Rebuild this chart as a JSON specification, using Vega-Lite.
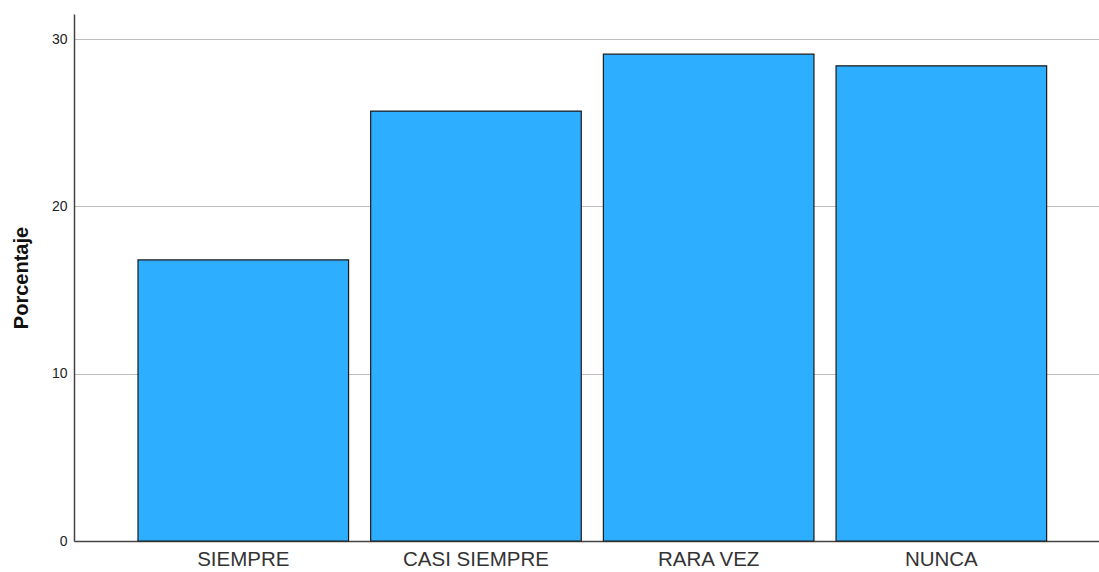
{
  "$schema": "https://vega.github.io/schema/vega-lite/v6.json",
  "width": 1025,
  "height": 527,
  "autosize": {"type": "none"},
  "padding": {"left": 74, "top": 14, "right": 0, "bottom": 31},
  "background": "white",
  "config": {"view": {"stroke": null}, "font": "Liberation Sans"},
  "data": {"values": [
    {"categoria": "SIEMPRE", "porcentaje": 16.8},
    {"categoria": "CASI SIEMPRE", "porcentaje": 25.7},
    {"categoria": "RARA VEZ", "porcentaje": 29.1},
    {"categoria": "NUNCA", "porcentaje": 28.4}
  ]},
  "mark": {"type": "bar", "color": "#2EAEFF", "stroke": "#1a1a1a", "strokeWidth": 1.2},
  "encoding": {
    "x": {
      "field": "categoria", "type": "nominal", "sort": null,
      "scale": {"paddingInner": 0.095, "paddingOuter": 0.25, "align": 0.55},
      "axis": {
        "title": null, "labelAngle": 0, "ticks": false, "labelPadding": 8,
        "labelFontSize": 20.5, "labelColor": "#333333", "labelFont": "Liberation Sans",
        "domainColor": "#444444", "domainWidth": 1.5, "grid": false
      }
    },
    "y": {
      "field": "porcentaje", "type": "quantitative",
      "scale": {"domain": [0, 31.5], "nice": false},
      "axis": {
        "title": "Porcentaje", "titleFontSize": 20, "titleFontWeight": "bold",
        "titleColor": "#111111", "titleFont": "Liberation Sans", "titlePadding": 20,
        "values": [0, 10, 20, 30], "ticks": false, "labelPadding": 7,
        "labelFontSize": 14, "labelColor": "#222222", "labelFont": "Liberation Sans",
        "domainColor": "#444444", "domainWidth": 1.5,
        "grid": true, "gridColor": "#BDBDBD", "gridWidth": 1
      }
    }
  }
}
